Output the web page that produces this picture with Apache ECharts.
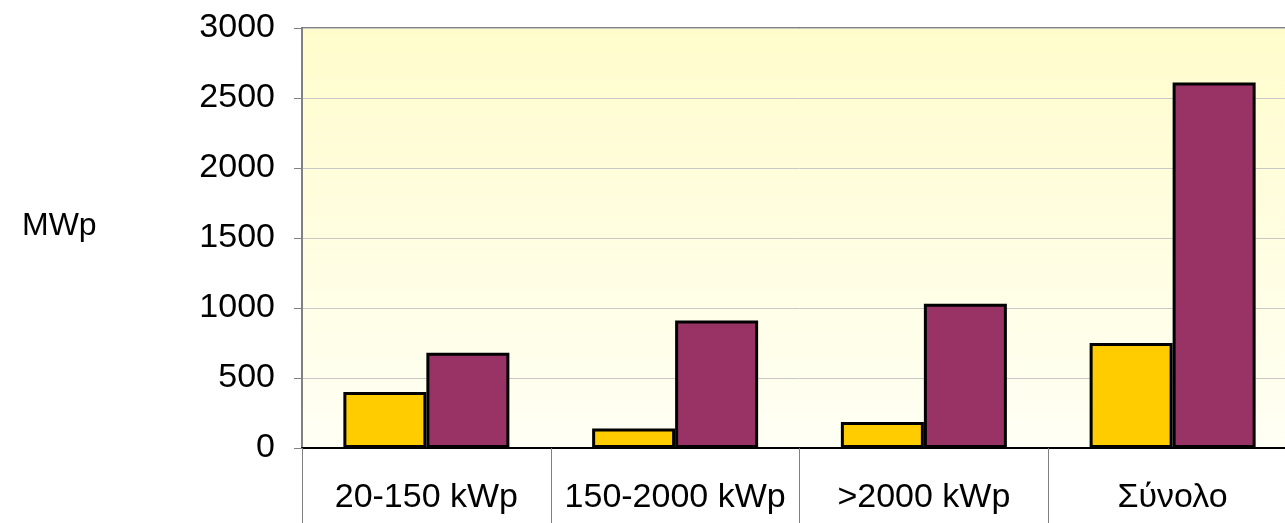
<!DOCTYPE html>
<html>
<head>
<meta charset="utf-8">
<script src="https://cdn.jsdelivr.net/npm/echarts@6/dist/echarts.min.js"></script>
<style>
html,body{margin:0;padding:0;background:#fff;overflow:hidden;width:1285px;height:523px;}
#chart{width:1300px;height:523px;}
</style>
</head>
<body>
<div id="chart"></div>
<script>
const categories = ['20-150 kWp', '150-2000 kWp', '>2000 kWp', 'Σύνολο'];
const seriesA = [400, 140, 185, 750];
const seriesB = [680, 910, 1030, 2610];
const yTicks = [0, 500, 1000, 1500, 2000, 2500, 3000];
const yAxisTitle = 'MWp';

const font = '"Liberation Sans", Arial, sans-serif';
const chart = echarts.init(document.getElementById('chart'));
chart.setOption({
  backgroundColor: '#ffffff',
  animation: false,
  graphic: [{
    type: 'text', left: 22, top: 210,
    style: { text: yAxisTitle, font: '32px ' + font, fill: '#000' }
  }],
  grid: {
    left: 302, top: 28, bottom: 75, right: 3,
    show: true,
    borderColor: '#808080', borderWidth: 2,
    backgroundColor: {
      type: 'linear', x: 0, y: 0, x2: 0, y2: 1,
      colorStops: [{ offset: 0, color: '#FFFCCC' }, { offset: 1, color: '#FFFFF5' }]
    }
  },
  xAxis: {
    type: 'category',
    data: categories,
    axisLine: { lineStyle: { color: '#000', width: 2 } },
    axisTick: { show: true, interval: 0, alignWithLabel: false, length: 75, lineStyle: { color: '#808080', width: 1 } },
    axisLabel: { interval: 0, margin: 33, fontSize: 34, fontFamily: font, color: '#000' }
  },
  yAxis: {
    type: 'value',
    min: yTicks[0], max: yTicks[yTicks.length - 1], interval: 500,
    axisLine: { show: true, lineStyle: { color: '#808080', width: 2 } },
    axisTick: { show: true, length: 8, lineStyle: { color: '#808080', width: 1 } },
    axisLabel: { margin: 27, fontSize: 34, fontFamily: font, color: '#000', formatter: v => String(v) },
    splitLine: { show: true, lineStyle: { color: '#C8C8C8', width: 1 } }
  },
  series: [
    {
      type: 'bar', data: seriesA, barWidth: 83, barGap: '0%',
      itemStyle: { color: '#FFCC00', borderColor: '#000', borderWidth: 3 }
    },
    {
      type: 'bar', data: seriesB, barWidth: 83, barGap: '0%',
      itemStyle: { color: '#993366', borderColor: '#000', borderWidth: 3 }
    }
  ]
});
</script>
</body>
</html>
